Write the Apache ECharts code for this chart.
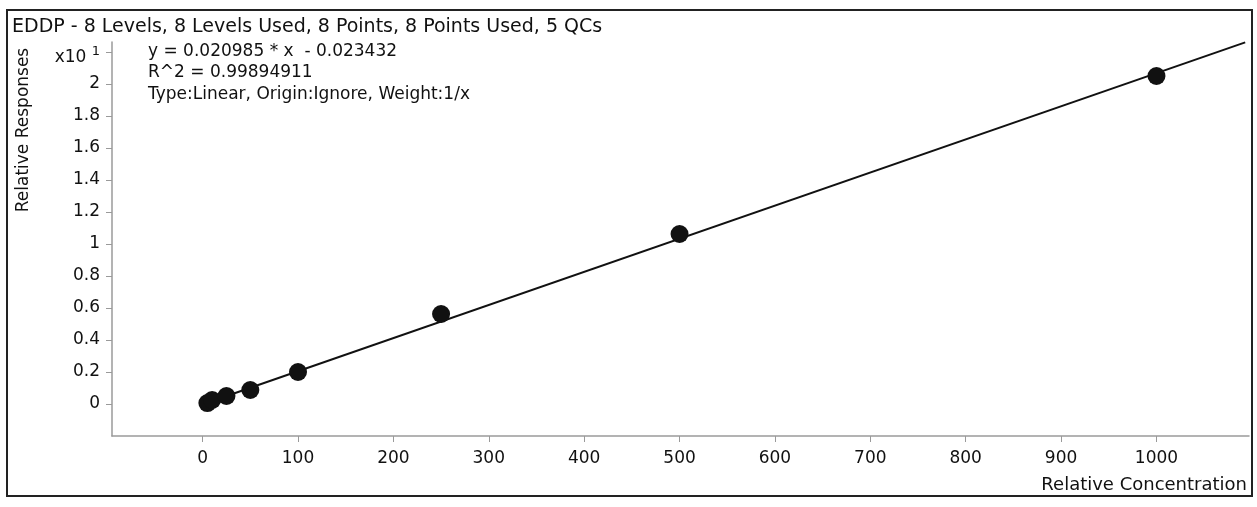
<!DOCTYPE html>
<html>
<head>
<meta charset="utf-8">
<script src="https://cdn.jsdelivr.net/npm/echarts@6/dist/echarts.min.js"></script>
<style>
  html, body { margin: 0; padding: 0; background: #fff; }
  #main { width: 1257px; height: 507px; }
</style>
</head>
<body>
<div id="main"></div>
<script>
// calibration points (concentration, response x10)
var concX = [5, 10, 25, 50, 100, 250, 500, 1000];
var respY = [0.006, 0.025, 0.05, 0.0875, 0.2, 0.5625, 1.0625, 2.05];
// fitted line, ends
var fitX = [4, 1093];
var fitY = [0.006, 2.26];
var xTicks = [0, 100, 200, 300, 400, 500, 600, 700, 800, 900, 1000];
var yTicks = [0, 0.2, 0.4, 0.6, 0.8, 1, 1.2, 1.4, 1.6, 1.8, 2, 2.2];

var titleText = 'EDDP - 8 Levels, 8 Levels Used, 8 Points, 8 Points Used, 5 QCs';
var infoLines = ['y = 0.020985 * x  - 0.023432', 'R^2 = 0.99894911', 'Type:Linear, Origin:Ignore, Weight:1/x'];

var FONT = 'DejaVu Sans';
var myChart = echarts.init(document.getElementById('main'));

var option = {
    backgroundColor: '#fff',
    animation: false,
    grid: {
        left: 112,
        right: 8,
        top: 42,
        bottom: 71,
        containLabel: false
    },
    xAxis: {
        type: 'value',
        min: -95,
        max: 1097,
        axisLine: { onZero: false, lineStyle: { color: '#9a9a9a', width: 1.5 } },
        axisTick: { show: true, length: 6, customValues: xTicks, lineStyle: { color: '#9a9a9a' } },
        splitLine: { show: false },
        axisLabel: {
            customValues: xTicks,
            margin: 14,
            color: '#111',
            fontFamily: FONT,
            fontSize: 17,
            formatter: function (v) { return String(v); }
        }
    },
    yAxis: {
        type: 'value',
        min: -0.2,
        max: 2.2625,
        axisLine: { onZero: false, lineStyle: { color: '#9a9a9a', width: 1.5 } },
        axisTick: { show: true, length: 6, customValues: yTicks, lineStyle: { color: '#9a9a9a' } },
        splitLine: { show: false },
        axisLabel: {
            customValues: yTicks,
            margin: 12,
            color: '#111',
            fontFamily: FONT,
            fontSize: 17,
            formatter: function (v) {
                if (Math.abs(v - 2.2) < 1e-6) return '{a|x10} {b|1}';
                return String(+v.toFixed(1));
            },
            rich: {
                a: { fontFamily: FONT, fontSize: 17, color: '#111', lineHeight: 28, verticalAlign: 'bottom' },
                b: { fontFamily: FONT, fontSize: 13, color: '#111', lineHeight: 28, verticalAlign: 'middle' }
            }
        }
    },
    series: [
        {
            name: 'fit',
            type: 'line',
            data: fitX.map(function (x, i) { return [x, fitY[i]]; }),
            showSymbol: false,
            lineStyle: { color: '#111', width: 2 },
            z: 2
        },
        {
            name: 'points',
            type: 'scatter',
            data: concX.map(function (x, i) { return [x, respY[i]]; }),
            symbolSize: 18,
            itemStyle: { color: '#111', opacity: 1 },
            z: 3
        }
    ],
    graphic: [
        {
            type: 'rect',
            shape: { x: 7, y: 10, width: 1245, height: 486 },
            style: { fill: null, stroke: '#222', lineWidth: 2 },
            silent: true
        },
        {
            type: 'text',
            x: 12, y: 27,
            style: { text: titleText, fontFamily: FONT, fontSize: 19, fill: '#111', verticalAlign: 'middle' }
        },
        {
            type: 'text',
            x: 148, y: 52,
            style: { text: infoLines[0], fontFamily: FONT, fontSize: 17, fill: '#111', verticalAlign: 'middle' }
        },
        {
            type: 'text',
            x: 148, y: 73,
            style: { text: infoLines[1], fontFamily: FONT, fontSize: 17, fill: '#111', verticalAlign: 'middle' }
        },
        {
            type: 'text',
            x: 148, y: 95,
            style: { text: infoLines[2], fontFamily: FONT, fontSize: 17, fill: '#111', verticalAlign: 'middle' }
        },
        {
            type: 'text',
            x: 24, y: 130,
            rotation: Math.PI / 2,
            style: { text: 'Relative Responses', fontFamily: FONT, fontSize: 17, fill: '#111', align: 'center', verticalAlign: 'middle' }
        },
        {
            type: 'text',
            x: 1247, y: 485,
            style: { text: 'Relative Concentration', fontFamily: FONT, fontSize: 18, fill: '#111', align: 'right', verticalAlign: 'middle' }
        }
    ]
};

myChart.setOption(option);
</script>
</body>
</html>
